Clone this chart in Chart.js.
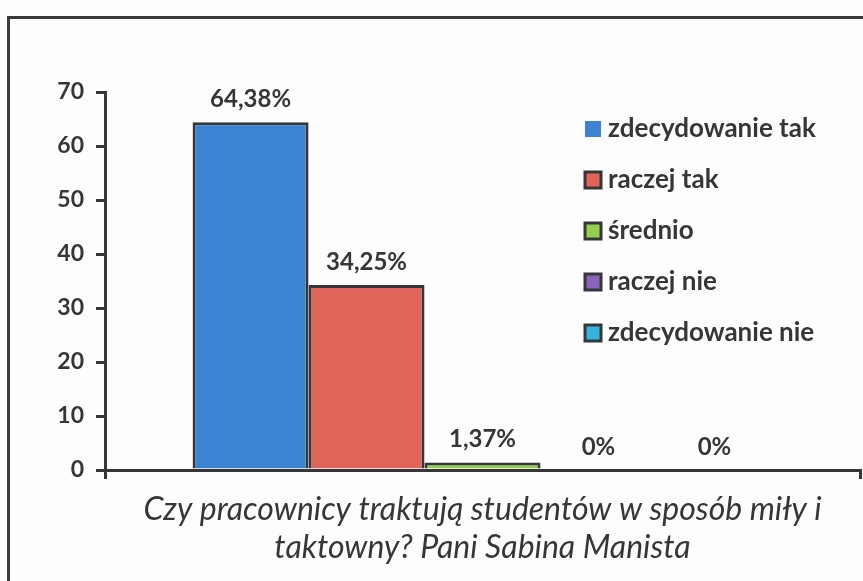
<!DOCTYPE html>
<html>
<head>
<meta charset="utf-8">
<script src="https://cdn.jsdelivr.net/npm/chart.js@4.4.0/dist/chart.umd.min.js"></script>
<style>
  html, body { margin:0; padding:0; background:#fdfdfd; }
  #wrap { position:relative; width:863px; height:581px; overflow:hidden; }
  #frame { position:absolute; left:7px; top:16px; width:900px; height:620px; border:3px solid #3a3a3a; box-sizing:border-box; }
  #c { position:absolute; left:0; top:0; }
</style>
</head>
<body>
<div id="wrap">
  <div id="frame"></div>
  <canvas id="c" width="863" height="581"></canvas>
</div>
<script>
// dane
const categories = [''];
const seriesNames = ['zdecydowanie tak', 'raczej tak', 'średnio', 'raczej nie', 'zdecydowanie nie'];
const seriesValues = [64.38, 34.25, 1.37, 0, 0];
const valueLabels = ['64,38%', '34,25%', '1,37%', '0%', '0%'];
const seriesColors = ['#3b84d2', '#e0645a', '#92cf4e', '#8865bb', '#34b4dc'];
const yTicks = [0, 10, 20, 30, 40, 50, 60, 70];
const axisTitle = ['Czy pracownicy traktują studentów w sposób miły i', 'taktowny? Pani Sabina Manista'];

const FONT = 'Lato, "Open Sans", sans-serif';
const INK = '#363636';

// etykiety nad słupkami
const barLabels = {
  id: 'barLabels',
  afterDatasetsDraw(chart) {
    const ctx = chart.ctx;
    ctx.save();
    ctx.font = 'bold 24px ' + FONT;
    ctx.fillStyle = INK;
    ctx.textAlign = 'center';
    ctx.textBaseline = 'bottom';
    chart.data.datasets.forEach((ds, i) => {
      const bar = chart.getDatasetMeta(i).data[0];
      ctx.fillText(valueLabels[i], bar.x, bar.y - 11);
    });
    ctx.restore();
  }
};

// legenda wewnątrz obszaru wykresu
const innerLegend = {
  id: 'innerLegend',
  afterDraw(chart) {
    const ctx = chart.ctx;
    ctx.save();
    ctx.font = 'bold 26px ' + FONT;
    ctx.textBaseline = 'middle';
    chart.data.datasets.forEach((ds, i) => {
      const y = 129 + i * 51;
      ctx.fillStyle = ds.backgroundColor;
      ctx.fillRect(585, y - 8, 16, 16);
      if (i > 0) {
        ctx.strokeStyle = INK;
        ctx.lineWidth = 3;
        ctx.strokeRect(585, y - 8, 16, 16);
      }
      ctx.fillStyle = INK;
      ctx.fillText(ds.label, 608, y);
    });
    ctx.restore();
  }
};

new Chart(document.getElementById('c'), {
  type: 'bar',
  data: {
    labels: categories,
    datasets: seriesNames.map((n, i) => ({
      label: n,
      data: [seriesValues[i]],
      backgroundColor: seriesColors[i],
      borderColor: INK,
      borderWidth: 3,
      borderSkipped: 'start'
    }))
  },
  options: {
    responsive: false,
    animation: false,
    layout: { padding: { top: 92, right: 3, bottom: 0, left: 0 } },
    datasets: { bar: { categoryPercentage: 0.768, barPercentage: 1 } },
    plugins: { legend: { display: false }, tooltip: { enabled: false } },
    scales: {
      x: {
        afterFit: s => { s.height = 111; },
        grid: { drawOnChartArea: false, drawTicks: true, tickLength: 9, color: INK, lineWidth: 3 },
        border: { color: INK, width: 3 },
        ticks: { display: false },
        title: {
          display: true,
          text: axisTitle,
          color: INK,
          font: { family: FONT, size: 32, style: 'italic', lineHeight: 1.19 },
          padding: { top: 0, bottom: 14 }
        }
      },
      y: {
        min: 0, max: 70,
        afterFit: s => { s.width = 105; },
        afterBuildTicks: s => { s.ticks = yTicks.map(v => ({ value: v })); },
        grid: { drawOnChartArea: false, drawTicks: true, tickLength: 9, color: INK, lineWidth: 3 },
        border: { color: INK, width: 3 },
        ticks: { color: INK, padding: 12, font: { family: FONT, size: 23, weight: 'bold' } }
      }
    }
  },
  plugins: [barLabels, innerLegend]
});
</script>
</body>
</html>
